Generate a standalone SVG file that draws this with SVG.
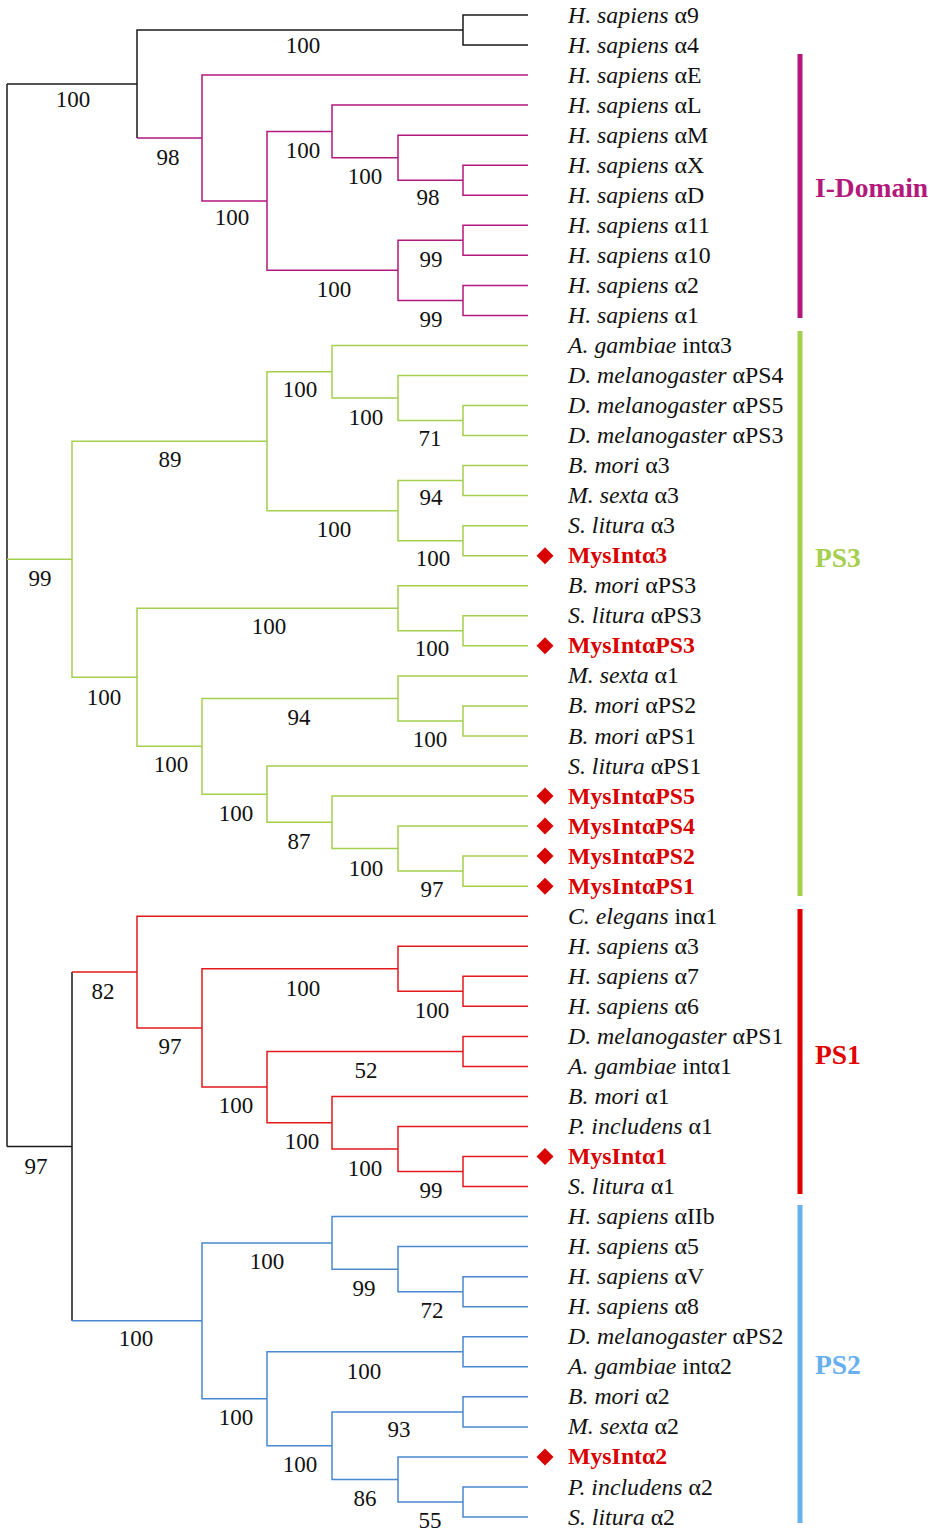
<svg xmlns="http://www.w3.org/2000/svg" width="933" height="1535" viewBox="0 0 933 1535">
<style>
text{font-family:"Liberation Serif","Times New Roman",serif;font-size:23.8px;fill:#111}
.bs{text-anchor:middle;font-size:23px}
.sp{font-style:italic}
.my{font-weight:bold;fill:#d90000}
.cl{font-weight:bold;font-size:27.5px}
path{fill:none;stroke-width:1.5}
.k{stroke:#1a1a1a}
.m{stroke:#b3197d}
.g{stroke:#a5cf4f}
.r{stroke:#e3191c}
.b{stroke:#4a88d0}
</style>
<defs>
<path id="dia" d="M0 -8.5 L8.5 0 L0 8.5 L-8.5 0 Z" style="fill:#d90000;stroke:none"/>
</defs>
<g id="connectors">
<path class="k" d="M7 84 V1146.5 M7 84 H137 M463 30 H137 V138 M528 15 H463 V45.04 H528 M7 1146.5 H72 M72 972.1 V1320.8"/>
<path class="m" d="M137 138 H202 M528 75.1 H202 V200.9 H267 M332 131.4 H267 V270.3 H398 M528 105.1 H332 V157.7 H398 M528 135.2 H398 V180.2 H463 M528 165.2 H463 V195.2 H528 M463 240.3 H398 V300.4 H463 M528 225.3 H463 V255.3 H528 M528 285.4 H463 V315.4 H528"/>
<path class="g" d="M7 559.3 H72 M267 441.2 H72 V677.3 H137 M332 371.7 H267 V510.7 H398 M528 345.4 H332 V398 H398 M528 375.5 H398 V420.5 H463 M528 405.5 H463 V435.6 H528 M463 480.6 H398 V540.7 H463 M528 465.6 H463 V495.6 H528 M528 525.7 H463 V555.7 H528 M398 608.3 H137 V746.3 H202 M528 585.8 H398 V630.8 H463 M528 615.8 H463 V645.8 H528 M398 698.4 H202 V794.2 H267 M528 675.9 H398 V720.9 H463 M528 705.9 H463 V736 H528 M528 766 H267 V822.3 H332 M528 796 H332 V848.6 H398 M528 826.1 H398 V871.1 H463 M528 856.1 H463 V886.2 H528"/>
<path class="r" d="M72 972.1 H137 M528 916.2 H137 V1027.9 H202 M398 968.8 H202 V1087.1 H267 M528 946.2 H398 V991.3 H463 M528 976.3 H463 V1006.3 H528 M463 1051.4 H267 V1122.7 H332 M528 1036.4 H463 V1066.4 H528 M528 1096.4 H332 V1149 H398 M528 1126.5 H398 V1171.5 H463 M528 1156.5 H463 V1186.6 H528"/>
<path class="b" d="M72 1320.8 H202 M332 1242.9 H202 V1398.7 H267 M528 1216.6 H332 V1269.2 H398 M528 1246.6 H398 V1291.7 H463 M528 1276.7 H463 V1306.7 H528 M463 1351.8 H267 V1445.7 H332 M528 1336.8 H463 V1366.8 H528 M463 1411.9 H332 V1479.5 H398 M528 1396.8 H463 V1426.9 H528 M528 1456.9 H398 V1502 H463 M528 1487 H463 V1517 H528"/>
</g>
<g id="bootstrap">
<text class="bs" x="73" y="107">100</text>
<text class="bs" x="303" y="53">100</text>
<text class="bs" x="168" y="165">98</text>
<text class="bs" x="303" y="158">100</text>
<text class="bs" x="365" y="184">100</text>
<text class="bs" x="428" y="205">98</text>
<text class="bs" x="232" y="225">100</text>
<text class="bs" x="431" y="267">99</text>
<text class="bs" x="334" y="297">100</text>
<text class="bs" x="431" y="327">99</text>
<text class="bs" x="300" y="397">100</text>
<text class="bs" x="366" y="425">100</text>
<text class="bs" x="430" y="446">71</text>
<text class="bs" x="170" y="467">89</text>
<text class="bs" x="431" y="505">94</text>
<text class="bs" x="334" y="537">100</text>
<text class="bs" x="433" y="566">100</text>
<text class="bs" x="40" y="586">99</text>
<text class="bs" x="269" y="634">100</text>
<text class="bs" x="432" y="656">100</text>
<text class="bs" x="104" y="705">100</text>
<text class="bs" x="299" y="725">94</text>
<text class="bs" x="430" y="747">100</text>
<text class="bs" x="171" y="772">100</text>
<text class="bs" x="236" y="821">100</text>
<text class="bs" x="299" y="849">87</text>
<text class="bs" x="366" y="876">100</text>
<text class="bs" x="432" y="897">97</text>
<text class="bs" x="103" y="999">82</text>
<text class="bs" x="303" y="996">100</text>
<text class="bs" x="432" y="1018">100</text>
<text class="bs" x="170" y="1054">97</text>
<text class="bs" x="366" y="1078">52</text>
<text class="bs" x="236" y="1113">100</text>
<text class="bs" x="302" y="1149">100</text>
<text class="bs" x="365" y="1176">100</text>
<text class="bs" x="431" y="1198">99</text>
<text class="bs" x="36" y="1174">97</text>
<text class="bs" x="267" y="1269">100</text>
<text class="bs" x="364" y="1296">99</text>
<text class="bs" x="432" y="1318">72</text>
<text class="bs" x="136" y="1346">100</text>
<text class="bs" x="364" y="1379">100</text>
<text class="bs" x="236" y="1425">100</text>
<text class="bs" x="399" y="1437">93</text>
<text class="bs" x="300" y="1472">100</text>
<text class="bs" x="365" y="1506">86</text>
<text class="bs" x="430" y="1528">55</text>
</g>
<g id="leaves">
<text x="568" y="22.5"><tspan class="sp">H. sapiens</tspan> α9</text>
<text x="568" y="52.5"><tspan class="sp">H. sapiens</tspan> α4</text>
<text x="568" y="82.6"><tspan class="sp">H. sapiens</tspan> αE</text>
<text x="568" y="112.6"><tspan class="sp">H. sapiens</tspan> αL</text>
<text x="568" y="142.7"><tspan class="sp">H. sapiens</tspan> αM</text>
<text x="568" y="172.7"><tspan class="sp">H. sapiens</tspan> αX</text>
<text x="568" y="202.7"><tspan class="sp">H. sapiens</tspan> αD</text>
<text x="568" y="232.8"><tspan class="sp">H. sapiens</tspan> α11</text>
<text x="568" y="262.8"><tspan class="sp">H. sapiens</tspan> α10</text>
<text x="568" y="292.9"><tspan class="sp">H. sapiens</tspan> α2</text>
<text x="568" y="322.9"><tspan class="sp">H. sapiens</tspan> α1</text>
<text x="568" y="352.9"><tspan class="sp">A. gambiae</tspan> intα3</text>
<text x="568" y="383"><tspan class="sp">D. melanogaster</tspan> αPS4</text>
<text x="568" y="413"><tspan class="sp">D. melanogaster</tspan> αPS5</text>
<text x="568" y="443.1"><tspan class="sp">D. melanogaster</tspan> αPS3</text>
<text x="568" y="473.1"><tspan class="sp">B. mori</tspan> α3</text>
<text x="568" y="503.1"><tspan class="sp">M. sexta</tspan> α3</text>
<text x="568" y="533.2"><tspan class="sp">S. litura</tspan> α3</text>
<text class="my" x="568" y="563.2">MysIntα3</text>
<text x="568" y="593.3"><tspan class="sp">B. mori</tspan> αPS3</text>
<text x="568" y="623.3"><tspan class="sp">S. litura</tspan> αPS3</text>
<text class="my" x="568" y="653.3">MysIntαPS3</text>
<text x="568" y="683.4"><tspan class="sp">M. sexta</tspan> α1</text>
<text x="568" y="713.4"><tspan class="sp">B. mori</tspan> αPS2</text>
<text x="568" y="743.5"><tspan class="sp">B. mori</tspan> αPS1</text>
<text x="568" y="773.5"><tspan class="sp">S. litura</tspan> αPS1</text>
<text class="my" x="568" y="803.5">MysIntαPS5</text>
<text class="my" x="568" y="833.6">MysIntαPS4</text>
<text class="my" x="568" y="863.6">MysIntαPS2</text>
<text class="my" x="568" y="893.7">MysIntαPS1</text>
<text x="568" y="923.7"><tspan class="sp">C. elegans</tspan> inα1</text>
<text x="568" y="953.7"><tspan class="sp">H. sapiens</tspan> α3</text>
<text x="568" y="983.8"><tspan class="sp">H. sapiens</tspan> α7</text>
<text x="568" y="1013.8"><tspan class="sp">H. sapiens</tspan> α6</text>
<text x="568" y="1043.9"><tspan class="sp">D. melanogaster</tspan> αPS1</text>
<text x="568" y="1073.9"><tspan class="sp">A. gambiae</tspan> intα1</text>
<text x="568" y="1103.9"><tspan class="sp">B. mori</tspan> α1</text>
<text x="568" y="1134"><tspan class="sp">P. includens</tspan> α1</text>
<text class="my" x="568" y="1164">MysIntα1</text>
<text x="568" y="1194.1"><tspan class="sp">S. litura</tspan> α1</text>
<text x="568" y="1224.1"><tspan class="sp">H. sapiens</tspan> αIIb</text>
<text x="568" y="1254.1"><tspan class="sp">H. sapiens</tspan> α5</text>
<text x="568" y="1284.2"><tspan class="sp">H. sapiens</tspan> αV</text>
<text x="568" y="1314.2"><tspan class="sp">H. sapiens</tspan> α8</text>
<text x="568" y="1344.3"><tspan class="sp">D. melanogaster</tspan> αPS2</text>
<text x="568" y="1374.3"><tspan class="sp">A. gambiae</tspan> intα2</text>
<text x="568" y="1404.3"><tspan class="sp">B. mori</tspan> α2</text>
<text x="568" y="1434.4"><tspan class="sp">M. sexta</tspan> α2</text>
<text class="my" x="568" y="1464.4">MysIntα2</text>
<text x="568" y="1494.5"><tspan class="sp">P. includens</tspan> α2</text>
<text x="568" y="1524.5"><tspan class="sp">S. litura</tspan> α2</text>
</g>
<g id="markers">
<use href="#dia" x="545" y="555.7"/>
<use href="#dia" x="545" y="645.8"/>
<use href="#dia" x="545" y="796"/>
<use href="#dia" x="545" y="826.1"/>
<use href="#dia" x="545" y="856.1"/>
<use href="#dia" x="545" y="886.2"/>
<use href="#dia" x="545" y="1156.5"/>
<use href="#dia" x="545" y="1456.9"/>
</g>
<g id="clade-idomain">
<rect x="797.5" y="54" width="5" height="264" fill="#b3197d"/>
<text class="cl" x="815" y="197" style="fill:#b3197d">I-Domain</text>
</g>
<g id="clade-ps3">
<rect x="797.5" y="331" width="5" height="565" fill="#a5cf4f"/>
<text class="cl" x="815" y="567" style="fill:#a5cf4f">PS3</text>
</g>
<g id="clade-ps1">
<rect x="797.5" y="909" width="5" height="285" fill="#e00000"/>
<text class="cl" x="815" y="1064" style="fill:#e00000">PS1</text>
</g>
<g id="clade-ps2">
<rect x="797.5" y="1205" width="5" height="318" fill="#66b0f0"/>
<text class="cl" x="815" y="1374" style="fill:#66b0f0">PS2</text>
</g>
</svg>
